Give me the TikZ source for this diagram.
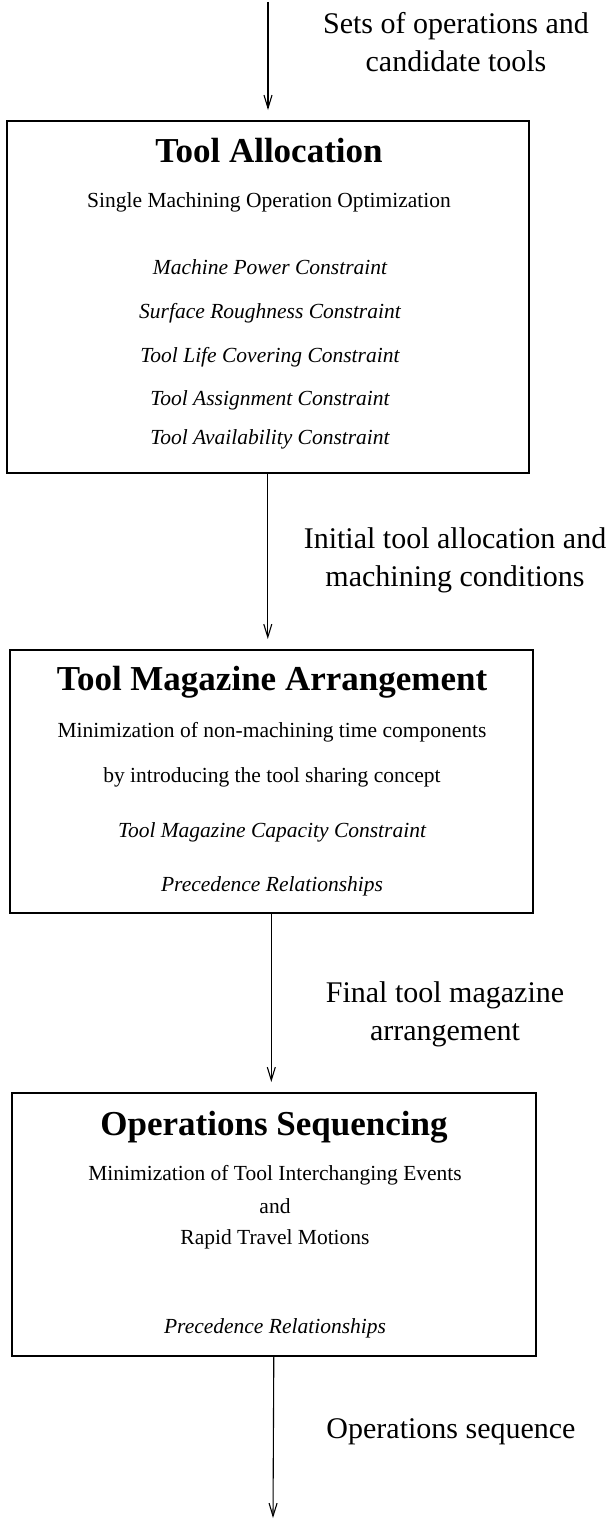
\documentclass[tikz,border=0pt]{standalone}
\usepackage{fontspec}
\setmainfont{Liberation Serif}
\usetikzlibrary{arrows.meta}
\tikzset{
  stage/.style={draw, line width=1.6pt, inner sep=0pt, anchor=north west},
  flow/.style={-{Straight Barb[length=13pt,width=8pt]}, line width=1.1pt, shorten >=10pt},
  head/.style={font=\bfseries\fontsize{35}{40}\selectfont, anchor=mid},
  sub/.style={font=\fontsize{21.5}{26}\selectfont, anchor=mid},
  cons/.style={font=\itshape\fontsize{21.5}{26}\selectfont, anchor=mid},
  note/.style={font=\fontsize{30}{38}\selectfont, align=center}
}
\begin{document}
\begin{tikzpicture}[x=1pt,y=-1pt]
  \useasboundingbox (0,0) rectangle (614,1520);
  % the three stages
  \node[stage, minimum width=522pt, minimum height=352pt] (alloc) at (6,120) {};
  \node[stage, minimum width=523pt, minimum height=263pt] (magaz) at (9,649) {};
  \node[stage, minimum width=524pt, minimum height=263pt] (seq) at (11,1092) {};
  % tool allocation
  \node[head] (allocT) at (269,160) {Tool Allocation};
  \node[sub] (allocS) at (269,205) {Single Machining Operation Optimization};
  \node[cons] (c1) at (270,272) {Machine Power Constraint};
  \node[cons] (c2) at (270,316) {Surface Roughness Constraint};
  \node[cons] (c3) at (270,360) {Tool Life Covering Constraint};
  \node[cons] (c4) at (270,403) {Tool Assignment Constraint};
  \node[cons] (c5) at (270,442) {Tool Availability Constraint};
  % tool magazine arrangement
  \node[head] (magazT) at (272,688) {Tool Magazine Arrangement};
  \node[sub] (magazS1) at (272,735) {Minimization of non-machining time components};
  \node[sub] (magazS2) at (272,780) {by introducing the tool sharing concept};
  \node[cons] (m1) at (272,835) {Tool Magazine Capacity Constraint};
  \node[cons] (m2) at (272,889) {Precedence Relationships};
  % operations sequencing
  \node[head] (seqT) at (274,1133) {Operations Sequencing};
  \node[sub] (seqS1) at (275,1178) {Minimization of Tool Interchanging Events};
  \node[sub] (seqS2) at (275,1211) {and};
  \node[sub] (seqS3) at (275,1242) {Rapid Travel Motions};
  \node[cons] (s1) at (275,1331) {Precedence Relationships};
  % flow between the stages
  \coordinate (in) at (268,2);
  \coordinate (out) at (273,1518);
  \draw[flow] (in) -- (in |- alloc.north);
  \draw[flow] (alloc.south) -- (alloc.south |- magaz.north);
  \draw[flow] (magaz.south) -- (magaz.south |- seq.north);
  \draw[flow, shorten >=0pt] (seq.south) -- (out);
  \node[note] (l1) at (456,42) {Sets of operations and\\candidate tools};
  \node[note] (l2) at (455,560) {Initial tool allocation and\\machining conditions};
  \node[note] (l3) at (445,1014) {Final tool magazine\\arrangement};
  \node[note, anchor=mid] (l4) at (451,1436) {Operations sequence};
\end{tikzpicture}
\end{document}
